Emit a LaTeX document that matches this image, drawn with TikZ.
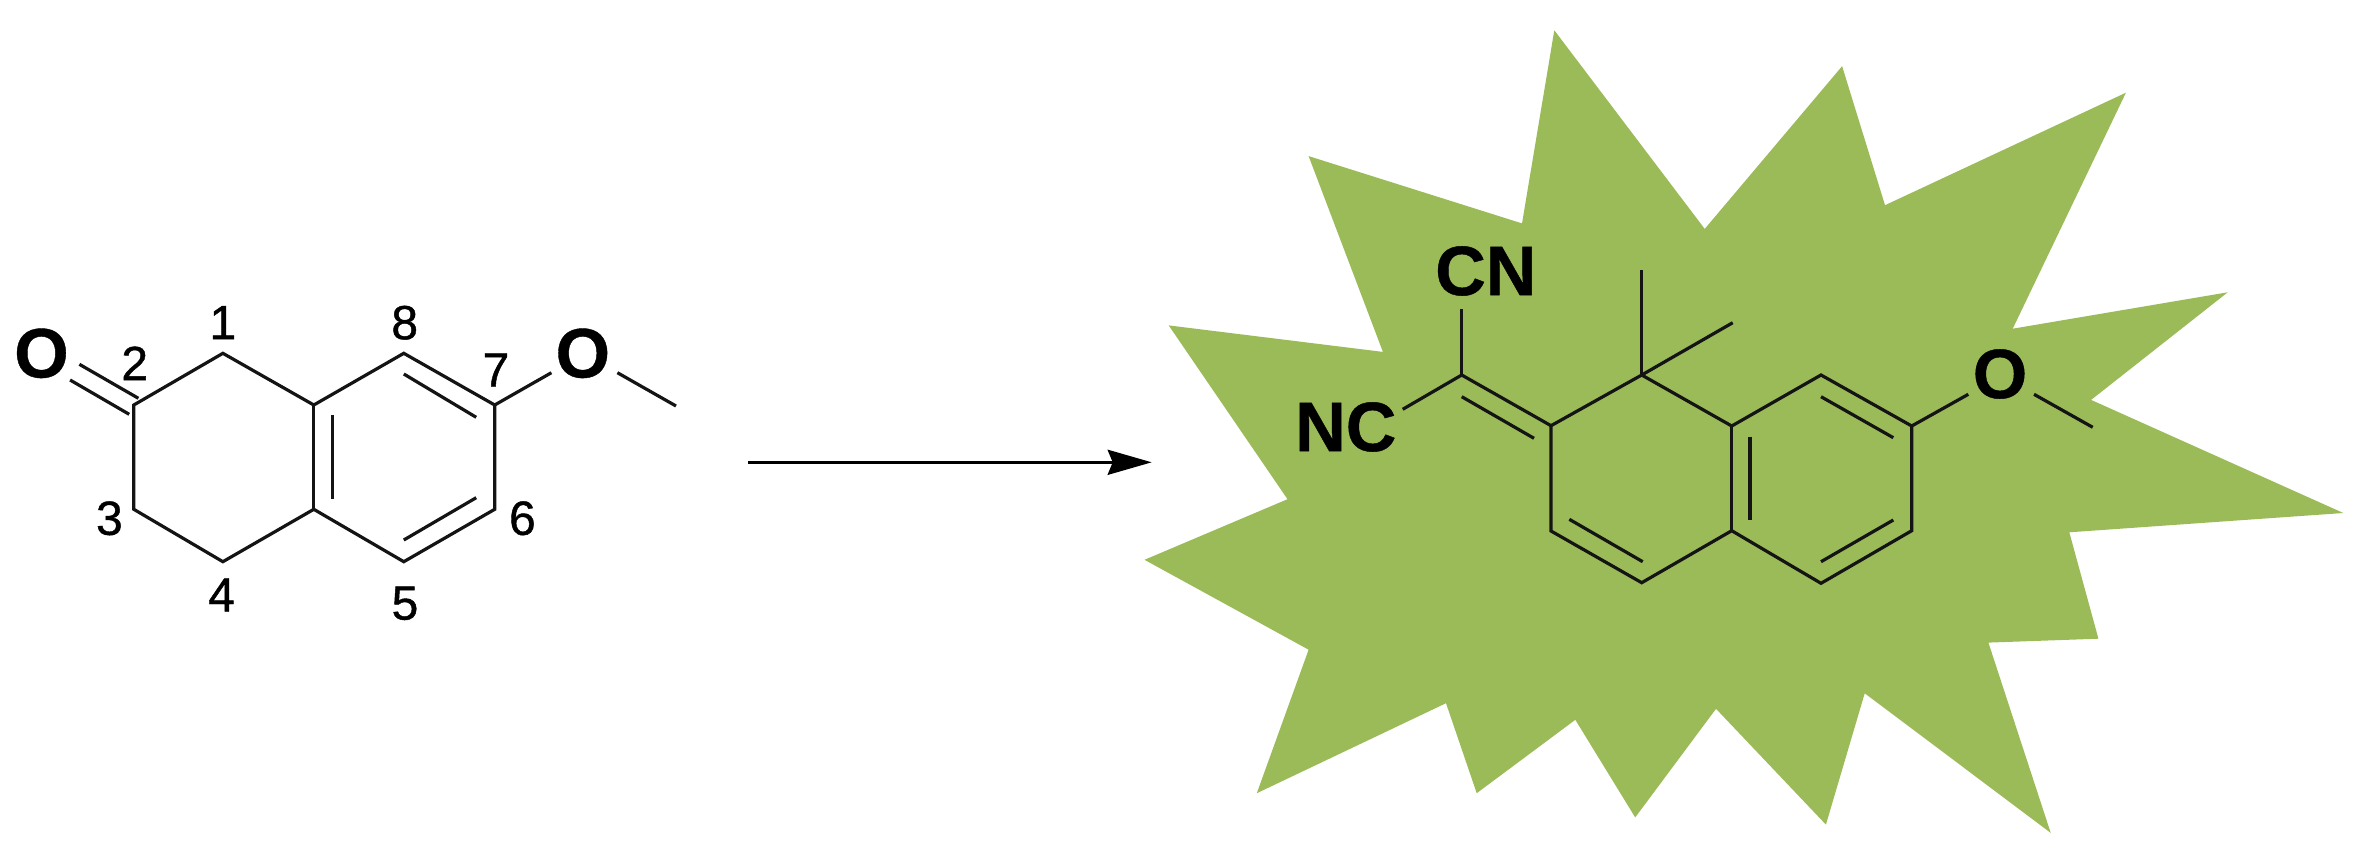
\documentclass[tikz,border=0pt]{standalone}
\usepackage{fontspec}
\setmainfont{Liberation Sans}
\newfontfamily\atomfont[FakeBold=0.6]{Liberation Sans Bold}
\newfontfamily\locantfont[FakeBold=0.9]{Liberation Sans}
\usetikzlibrary{arrows.meta}
\definecolor{burst}{HTML}{9BBB59}
\tikzset{
  bond/.style={line width=1.6pt,black!92,line cap=butt,line join=miter},
  atom/.style={inner sep=0pt,outer sep=0pt,anchor=center,font=\atomfont\fontsize{35}{35}\selectfont},
  locant/.style={inner sep=0pt,outer sep=0pt,anchor=center,font=\locantfont\fontsize{24}{24}\selectfont},
  reaction/.style={line width=1.5pt,-{Stealth[length=22pt,width=12.5pt,inset=2.5pt]}}
}
\begin{document}
\begin{tikzpicture}[x=0.5pt,y=-0.5pt]
\useasboundingbox (0,0) rectangle (2369,866);
% burst
\fill[burst] (1554.3,30.3) -- (1704.7,228.9) -- (1842.1,66.2) -- (1885,205.2) -- (2125.9,92.7)
  -- (2012.7,328.7) -- (2227.7,292.3) -- (2091.1,399.9) -- (2343.3,513) -- (2069.3,532.3)
  -- (2098.4,638.7) -- (1988.4,642.6) -- (2050.7,832.9) -- (1864.7,693.3) -- (1825.9,824.6)
  -- (1716,708.8) -- (1635.2,817.4) -- (1575.3,719.8) -- (1476.7,793.2) -- (1446,703.2)
  -- (1256.8,793.2) -- (1308.6,649.7) -- (1144.5,559.8) -- (1287.5,499.2) -- (1168.7,325.4)
  -- (1382.9,351.9) -- (1308.6,156.1) -- (1522,223.4) -- cycle;
% left molecule atoms
\coordinate (a1) at (222.9,353.3);
\coordinate (a2) at (133.8,405);
\coordinate (a3) at (133.8,509.3);
\coordinate (a4) at (222.9,561.7);
\coordinate (a4a) at (313.8,509.3);
\coordinate (a5) at (403.8,561.7);
\coordinate (a6) at (494.7,509.3);
\coordinate (a7) at (494.7,405);
\coordinate (a8) at (403.8,353.3);
\coordinate (a8a) at (313.8,405);
\coordinate (iA1) at (332.3,415);
\coordinate (iA2) at (332.3,499.3);
\coordinate (iB1) at (403.8,374);
\coordinate (iB2) at (476.2,417.3);
\coordinate (iC1) at (476.2,497.7);
\coordinate (iC2) at (403.8,540);
\coordinate (co1a) at (79.4,364.3);
\coordinate (co1b) at (138.4,398.3);
\coordinate (co2a) at (70.1,380);
\coordinate (co2b) at (129.2,414.3);
\coordinate (lOb) at (551.4,372.7);
\coordinate (lOc) at (617.4,372.7);
\coordinate (lMe) at (676,406);
\node[atom] (lO1) at (41.5,353.3) {O};
\node[atom] (lO2) at (582.8,353.3) {O};
\node[locant] (n1) at (222.9,322.7) {1};
\node[locant] (n2) at (134.7,363.3) {2};
\node[locant] (n3) at (109.4,518.3) {3};
\node[locant] (n4) at (221.5,595) {4};
\node[locant] (n5) at (405,603.3) {5};
\node[locant] (n6) at (522.4,518.3) {6};
\node[locant] (n7) at (496,370) {7};
\node[locant] (n8) at (404.7,322.7) {8};
\draw[bond] (a2) -- (a1) -- (a8a) -- (a8) -- (a7) -- (a6) -- (a5) -- (a4a) -- (a4) -- (a3) -- cycle;
\draw[bond] (a8a) -- (a4a);
\draw[bond] (iA1) -- (iA2);
\draw[bond] (iB1) -- (iB2);
\draw[bond] (iC1) -- (iC2);
\draw[bond] (co1a) -- (co1b);
\draw[bond] (co2a) -- (co2b);
\draw[bond] (a7) -- (lOb);
\draw[bond] (lOc) -- (lMe);
% arrow
\coordinate (arS) at (748,462.3);
\coordinate (arE) at (1151.7,462.3);
\draw[reaction] (arS) -- (arE);
% right molecule atoms
\coordinate (b1) at (1641.7,375);
\coordinate (b2) at (1551,425.7);
\coordinate (b3) at (1551,531);
\coordinate (b4) at (1641.7,582.7);
\coordinate (b4a) at (1731.7,530.7);
\coordinate (b5) at (1821,583.3);
\coordinate (b6) at (1911.7,530.7);
\coordinate (b7) at (1911.7,426);
\coordinate (b8) at (1821,375);
\coordinate (b8a) at (1731.7,426);
\coordinate (cc) at (1461.7,375);
\coordinate (cnT) at (1461.7,309.3);
\coordinate (ncE) at (1402.7,409.3);
\coordinate (me1) at (1641.7,270);
\coordinate (me2) at (1732.7,322.7);
\coordinate (dC1) at (1461.7,396.7);
\coordinate (dC2) at (1534,438.3);
\coordinate (dD1) at (1569.3,519.3);
\coordinate (dD2) at (1642.7,561.7);
\coordinate (dE1) at (1750,436.7);
\coordinate (dE2) at (1750,520);
\coordinate (dF1) at (1821,396.7);
\coordinate (dF2) at (1893.3,437.7);
\coordinate (dG1) at (1893.3,520);
\coordinate (dG2) at (1821,561.7);
\coordinate (rOb) at (1968.3,394.3);
\coordinate (rOc) at (2034,394.3);
\coordinate (rMe) at (2092.7,427.3);
\node[atom] (rO) at (2000,374) {O};
\node[atom] (tCN) at (1485.8,271) {CN};
\node[atom] (tNC) at (1345.8,427) {NC};
\draw[bond] (b2) -- (b1) -- (b8a) -- (b8) -- (b7) -- (b6) -- (b5) -- (b4a) -- (b4) -- (b3) -- cycle;
\draw[bond] (b8a) -- (b4a);
\draw[bond] (b2) -- (cc);
\draw[bond] (cc) -- (cnT);
\draw[bond] (cc) -- (ncE);
\draw[bond] (b1) -- (me1);
\draw[bond] (b1) -- (me2);
\draw[bond] (dC1) -- (dC2);
\draw[bond] (dD1) -- (dD2);
\draw[bond] (dE1) -- (dE2);
\draw[bond] (dF1) -- (dF2);
\draw[bond] (dG1) -- (dG2);
\draw[bond] (b7) -- (rOb);
\draw[bond] (rOc) -- (rMe);
\end{tikzpicture}
\end{document}
